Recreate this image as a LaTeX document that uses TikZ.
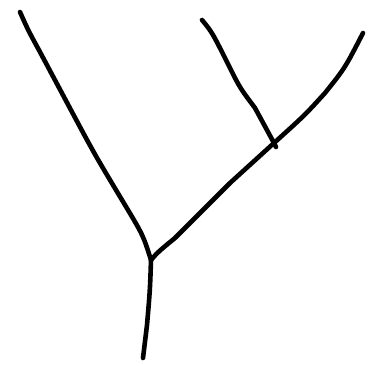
\documentclass[tikz,border=0pt]{standalone}
\begin{document}
\begin{tikzpicture}[x=1pt,y=-1pt,stroke/.style={line width=4.6pt,line cap=round,line join=round}]
\useasboundingbox (0,0) rectangle (372,366);
\coordinate (J) at (151,260);
\coordinate (K) at (274,143);
\draw[stroke] (20,12) .. controls (28,30) .. (40,52) -- (72,112) .. controls (95,155) .. (125,205) .. controls (143,235) .. (J);
\draw[stroke] (J) .. controls (150,290) .. (147,325) -- (143,358);
\draw[stroke] (J) .. controls (158,252) .. (175,238) -- (230,183) -- (K) .. controls (305,115) .. (325,93) .. controls (345,68) .. (363,33);
\draw[stroke] (202,20) .. controls (212,32) .. (230,68) .. controls (240,88) .. (255,108) -- (K) -- (276,147);
\end{tikzpicture}
\end{document}
